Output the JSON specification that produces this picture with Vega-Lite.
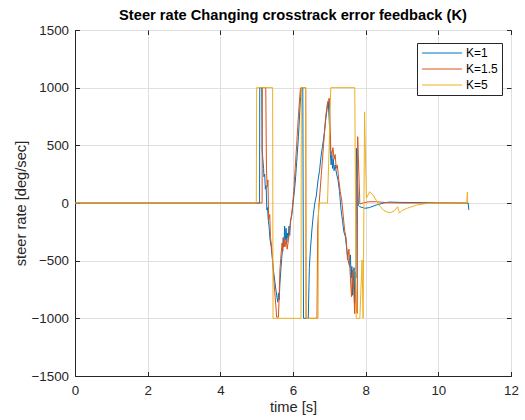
{
  "$schema": "https://vega.github.io/schema/vega-lite/v6.json",
  "width": 436,
  "height": 346,
  "autosize": {"type": "none"},
  "padding": {"left": 75, "top": 30, "right": 14, "bottom": 44},
  "background": "white",
  "title": {"text": "Steer rate Changing crosstrack error feedback (K)", "font": "Liberation Sans", "fontSize": 14.67, "fontWeight": "bold", "color": "#000000", "frame": "group", "anchor": "middle", "offset": 0},
  "config": {
    "view": {"stroke": "#262626", "strokeWidth": 1},
    "axis": {"labelFont": "Liberation Sans", "titleFont": "Liberation Sans", "labelFontSize": 13.33, "titleFontSize": 14.67, "titleFontWeight": "normal", "labelColor": "#262626", "titleColor": "#262626", "tickColor": "#262626", "domainColor": "#262626", "gridColor": "#dfdfdf", "tickSize": -4.5, "labelFlush": false, "labelOverlap": false, "format": "d"}
  },
  "datasets": {
    "steer": [
      {"K": "K=1", "t": 0, "v": 0}, {"K": "K=1", "t": 5.08, "v": 0}, {"K": "K=1", "t": 5.085, "v": 1000}, {"K": "K=1", "t": 5.14, "v": 1000}, {"K": "K=1", "t": 5.15, "v": 460}, {"K": "K=1", "t": 5.17, "v": 380}, {"K": "K=1", "t": 5.19, "v": 300}, {"K": "K=1", "t": 5.2, "v": 228}, {"K": "K=1", "t": 5.22, "v": 250}, {"K": "K=1", "t": 5.24, "v": 120}, {"K": "K=1", "t": 5.26, "v": 150}, {"K": "K=1", "t": 5.28, "v": -61}, {"K": "K=1", "t": 5.3, "v": -40}, {"K": "K=1", "t": 5.32, "v": -150}, {"K": "K=1", "t": 5.34, "v": -200}, {"K": "K=1", "t": 5.37, "v": -321}, {"K": "K=1", "t": 5.4, "v": -380}, {"K": "K=1", "t": 5.43, "v": -480}, {"K": "K=1", "t": 5.46, "v": -581}, {"K": "K=1", "t": 5.5, "v": -680}, {"K": "K=1", "t": 5.53, "v": -754}, {"K": "K=1", "t": 5.56, "v": -820}, {"K": "K=1", "t": 5.58, "v": -860}, {"K": "K=1", "t": 5.6, "v": -780}, {"K": "K=1", "t": 5.62, "v": -840}, {"K": "K=1", "t": 5.64, "v": -697}, {"K": "K=1", "t": 5.67, "v": -560}, {"K": "K=1", "t": 5.69, "v": -480}, {"K": "K=1", "t": 5.71, "v": -408}, {"K": "K=1", "t": 5.73, "v": -300}, {"K": "K=1", "t": 5.75, "v": -380}, {"K": "K=1", "t": 5.77, "v": -200}, {"K": "K=1", "t": 5.79, "v": -320}, {"K": "K=1", "t": 5.81, "v": -220}, {"K": "K=1", "t": 5.83, "v": -340}, {"K": "K=1", "t": 5.85, "v": -260}, {"K": "K=1", "t": 5.87, "v": -300}, {"K": "K=1", "t": 5.89, "v": -200}, {"K": "K=1", "t": 5.91, "v": -280}, {"K": "K=1", "t": 5.93, "v": -150}, {"K": "K=1", "t": 5.96, "v": -119}, {"K": "K=1", "t": 5.99, "v": -40}, {"K": "K=1", "t": 6.02, "v": 50}, {"K": "K=1", "t": 6.06, "v": 171}, {"K": "K=1", "t": 6.1, "v": 350}, {"K": "K=1", "t": 6.15, "v": 575}, {"K": "K=1", "t": 6.18, "v": 760}, {"K": "K=1", "t": 6.21, "v": 922}, {"K": "K=1", "t": 6.23, "v": 1000}, {"K": "K=1", "t": 6.27, "v": 1000}, {"K": "K=1", "t": 6.29, "v": -1000}, {"K": "K=1", "t": 6.42, "v": -1000}, {"K": "K=1", "t": 6.45, "v": -560}, {"K": "K=1", "t": 6.48, "v": -400}, {"K": "K=1", "t": 6.52, "v": -234}, {"K": "K=1", "t": 6.56, "v": -100}, {"K": "K=1", "t": 6.6, "v": 0}, {"K": "K=1", "t": 6.64, "v": 60}, {"K": "K=1", "t": 6.69, "v": 200}, {"K": "K=1", "t": 6.73, "v": 280}, {"K": "K=1", "t": 6.77, "v": 400}, {"K": "K=1", "t": 6.81, "v": 488}, {"K": "K=1", "t": 6.86, "v": 600}, {"K": "K=1", "t": 6.9, "v": 720}, {"K": "K=1", "t": 6.94, "v": 820}, {"K": "K=1", "t": 6.97, "v": 880}, {"K": "K=1", "t": 7.0, "v": 700}, {"K": "K=1", "t": 7.03, "v": 420}, {"K": "K=1", "t": 7.05, "v": 330}, {"K": "K=1", "t": 7.07, "v": 420}, {"K": "K=1", "t": 7.09, "v": 300}, {"K": "K=1", "t": 7.11, "v": 380}, {"K": "K=1", "t": 7.13, "v": 280}, {"K": "K=1", "t": 7.16, "v": 330}, {"K": "K=1", "t": 7.2, "v": 250}, {"K": "K=1", "t": 7.24, "v": 200}, {"K": "K=1", "t": 7.28, "v": 100}, {"K": "K=1", "t": 7.32, "v": -50}, {"K": "K=1", "t": 7.36, "v": -150}, {"K": "K=1", "t": 7.4, "v": -250}, {"K": "K=1", "t": 7.44, "v": -290}, {"K": "K=1", "t": 7.48, "v": -400}, {"K": "K=1", "t": 7.52, "v": -500}, {"K": "K=1", "t": 7.56, "v": -552}, {"K": "K=1", "t": 7.58, "v": -450}, {"K": "K=1", "t": 7.6, "v": -650}, {"K": "K=1", "t": 7.62, "v": -550}, {"K": "K=1", "t": 7.64, "v": -800}, {"K": "K=1", "t": 7.66, "v": -697}, {"K": "K=1", "t": 7.68, "v": -560}, {"K": "K=1", "t": 7.7, "v": -870}, {"K": "K=1", "t": 7.72, "v": -600}, {"K": "K=1", "t": 7.735, "v": -650}, {"K": "K=1", "t": 7.745, "v": 474}, {"K": "K=1", "t": 7.8, "v": -20}, {"K": "K=1", "t": 7.84, "v": -32}, {"K": "K=1", "t": 7.98, "v": -46}, {"K": "K=1", "t": 8.1, "v": -40}, {"K": "K=1", "t": 8.3, "v": -17}, {"K": "K=1", "t": 8.5, "v": 0}, {"K": "K=1", "t": 8.65, "v": 8}, {"K": "K=1", "t": 9.0, "v": 5}, {"K": "K=1", "t": 10.0, "v": 2}, {"K": "K=1", "t": 10.82, "v": 0}, {"K": "K=1", "t": 10.84, "v": -60},
      {"K": "K=1.5", "t": 0, "v": 0}, {"K": "K=1.5", "t": 5.15, "v": 0}, {"K": "K=1.5", "t": 5.155, "v": 1000}, {"K": "K=1.5", "t": 5.25, "v": 1000}, {"K": "K=1.5", "t": 5.27, "v": 286}, {"K": "K=1.5", "t": 5.29, "v": 141}, {"K": "K=1.5", "t": 5.31, "v": 200}, {"K": "K=1.5", "t": 5.33, "v": -147}, {"K": "K=1.5", "t": 5.36, "v": -100}, {"K": "K=1.5", "t": 5.38, "v": -300}, {"K": "K=1.5", "t": 5.4, "v": -347}, {"K": "K=1.5", "t": 5.43, "v": -450}, {"K": "K=1.5", "t": 5.46, "v": -610}, {"K": "K=1.5", "t": 5.5, "v": -780}, {"K": "K=1.5", "t": 5.53, "v": -900}, {"K": "K=1.5", "t": 5.55, "v": -990}, {"K": "K=1.5", "t": 5.6, "v": -990}, {"K": "K=1.5", "t": 5.62, "v": -800}, {"K": "K=1.5", "t": 5.64, "v": -581}, {"K": "K=1.5", "t": 5.67, "v": -450}, {"K": "K=1.5", "t": 5.7, "v": -347}, {"K": "K=1.5", "t": 5.72, "v": -420}, {"K": "K=1.5", "t": 5.75, "v": -300}, {"K": "K=1.5", "t": 5.78, "v": -380}, {"K": "K=1.5", "t": 5.81, "v": -310}, {"K": "K=1.5", "t": 5.84, "v": -400}, {"K": "K=1.5", "t": 5.87, "v": -330}, {"K": "K=1.5", "t": 5.9, "v": -260}, {"K": "K=1.5", "t": 5.93, "v": -176}, {"K": "K=1.5", "t": 5.98, "v": -50}, {"K": "K=1.5", "t": 6.02, "v": 100}, {"K": "K=1.5", "t": 6.06, "v": 300}, {"K": "K=1.5", "t": 6.1, "v": 500}, {"K": "K=1.5", "t": 6.13, "v": 661}, {"K": "K=1.5", "t": 6.17, "v": 850}, {"K": "K=1.5", "t": 6.2, "v": 980}, {"K": "K=1.5", "t": 6.22, "v": 1000}, {"K": "K=1.5", "t": 6.35, "v": 1000}, {"K": "K=1.5", "t": 6.36, "v": -1000}, {"K": "K=1.5", "t": 6.66, "v": -1000}, {"K": "K=1.5", "t": 6.68, "v": -200}, {"K": "K=1.5", "t": 6.72, "v": 0}, {"K": "K=1.5", "t": 6.78, "v": 250}, {"K": "K=1.5", "t": 6.84, "v": 500}, {"K": "K=1.5", "t": 6.9, "v": 750}, {"K": "K=1.5", "t": 6.95, "v": 870}, {"K": "K=1.5", "t": 7.0, "v": 910}, {"K": "K=1.5", "t": 7.04, "v": 460}, {"K": "K=1.5", "t": 7.07, "v": 420}, {"K": "K=1.5", "t": 7.1, "v": 480}, {"K": "K=1.5", "t": 7.13, "v": 380}, {"K": "K=1.5", "t": 7.16, "v": 420}, {"K": "K=1.5", "t": 7.19, "v": 300}, {"K": "K=1.5", "t": 7.22, "v": 330}, {"K": "K=1.5", "t": 7.26, "v": 200}, {"K": "K=1.5", "t": 7.3, "v": 100}, {"K": "K=1.5", "t": 7.34, "v": 26}, {"K": "K=1.5", "t": 7.38, "v": -100}, {"K": "K=1.5", "t": 7.42, "v": -234}, {"K": "K=1.5", "t": 7.46, "v": -300}, {"K": "K=1.5", "t": 7.5, "v": -494}, {"K": "K=1.5", "t": 7.54, "v": -400}, {"K": "K=1.5", "t": 7.58, "v": -650}, {"K": "K=1.5", "t": 7.61, "v": -812}, {"K": "K=1.5", "t": 7.64, "v": -580}, {"K": "K=1.5", "t": 7.67, "v": -750}, {"K": "K=1.5", "t": 7.7, "v": -960}, {"K": "K=1.5", "t": 7.72, "v": -700}, {"K": "K=1.5", "t": 7.75, "v": -950}, {"K": "K=1.5", "t": 7.77, "v": -957}, {"K": "K=1.5", "t": 7.78, "v": 575}, {"K": "K=1.5", "t": 7.84, "v": -9}, {"K": "K=1.5", "t": 7.95, "v": 3}, {"K": "K=1.5", "t": 8.1, "v": 11}, {"K": "K=1.5", "t": 8.3, "v": 11}, {"K": "K=1.5", "t": 8.6, "v": 2}, {"K": "K=1.5", "t": 9.0, "v": 0}, {"K": "K=1.5", "t": 10.8, "v": 0},
      {"K": "K=5", "t": 0, "v": 0}, {"K": "K=5", "t": 4.99, "v": 0}, {"K": "K=5", "t": 5.0, "v": 1000}, {"K": "K=5", "t": 5.44, "v": 1000}, {"K": "K=5", "t": 5.45, "v": -1000}, {"K": "K=5", "t": 6.22, "v": -1000}, {"K": "K=5", "t": 6.23, "v": 1000}, {"K": "K=5", "t": 6.35, "v": 1000}, {"K": "K=5", "t": 6.36, "v": -1000}, {"K": "K=5", "t": 6.69, "v": -1000}, {"K": "K=5", "t": 6.7, "v": 0}, {"K": "K=5", "t": 6.95, "v": 0}, {"K": "K=5", "t": 7.04, "v": 1000}, {"K": "K=5", "t": 7.7, "v": 1000}, {"K": "K=5", "t": 7.74, "v": -1000}, {"K": "K=5", "t": 7.84, "v": -1000}, {"K": "K=5", "t": 7.9, "v": -494}, {"K": "K=5", "t": 7.93, "v": -1000}, {"K": "K=5", "t": 7.97, "v": 790}, {"K": "K=5", "t": 8.02, "v": 41}, {"K": "K=5", "t": 8.11, "v": 98}, {"K": "K=5", "t": 8.2, "v": 70}, {"K": "K=5", "t": 8.3, "v": 20}, {"K": "K=5", "t": 8.4, "v": -30}, {"K": "K=5", "t": 8.5, "v": -65}, {"K": "K=5", "t": 8.6, "v": -80}, {"K": "K=5", "t": 8.7, "v": -82}, {"K": "K=5", "t": 8.8, "v": -65}, {"K": "K=5", "t": 8.88, "v": -32}, {"K": "K=5", "t": 8.93, "v": -88}, {"K": "K=5", "t": 9.0, "v": -65}, {"K": "K=5", "t": 9.15, "v": -45}, {"K": "K=5", "t": 9.4, "v": -18}, {"K": "K=5", "t": 9.7, "v": -3}, {"K": "K=5", "t": 10.0, "v": 0}, {"K": "K=5", "t": 10.78, "v": 0}, {"K": "K=5", "t": 10.8, "v": 95}, {"K": "K=5", "t": 10.81, "v": 0}
    ]
  },
  "data": {"name": "steer"},
  "layer": [
    {
      "mark": {"type": "line", "strokeWidth": 1, "interpolate": "linear"},
      "encoding": {
        "x": {"field": "t", "type": "quantitative", "scale": {"domain": [0, 12], "nice": false}, "axis": {"orient": "bottom", "values": [0, 2, 4, 6, 8, 10, 12], "title": "time [s]", "grid": true, "labelPadding": 12, "titlePadding": 3}},
        "y": {"field": "v", "type": "quantitative", "scale": {"domain": [-1500, 1500], "nice": false}, "axis": {"orient": "left", "values": [-1500, -1000, -500, 0, 500, 1000, 1500], "title": "steer rate [deg/sec]", "grid": true, "labelPadding": 11, "titlePadding": 3}},
        "color": {"field": "K", "type": "nominal", "scale": {"domain": ["K=1", "K=1.5", "K=5"], "range": ["#0072BD", "#D95319", "#EDB120"]},
          "legend": {"title": null, "orient": "none", "legendX": 342, "legendY": 13, "direction": "vertical", "fillColor": "white", "strokeColor": "#262626", "padding": 4, "symbolType": "M-1,0H7", "symbolSize": 100, "symbolStrokeWidth": 1, "labelFont": "Liberation Sans", "labelFontSize": 12, "labelColor": "#000000", "labelOffset": 33, "rowPadding": 4}
        }
      }
    },
    {
      "mark": {"type": "line", "opacity": 0},
      "encoding": {
        "x": {"field": "t", "type": "quantitative", "axis": {"orient": "top", "values": [0, 2, 4, 6, 8, 10, 12], "labels": false, "domain": false, "grid": false, "title": null}},
        "y": {"field": "v", "type": "quantitative", "axis": {"orient": "right", "values": [-1500, -1000, -500, 0, 500, 1000, 1500], "labels": false, "domain": false, "grid": false, "title": null}}
      }
    }
  ]
}
